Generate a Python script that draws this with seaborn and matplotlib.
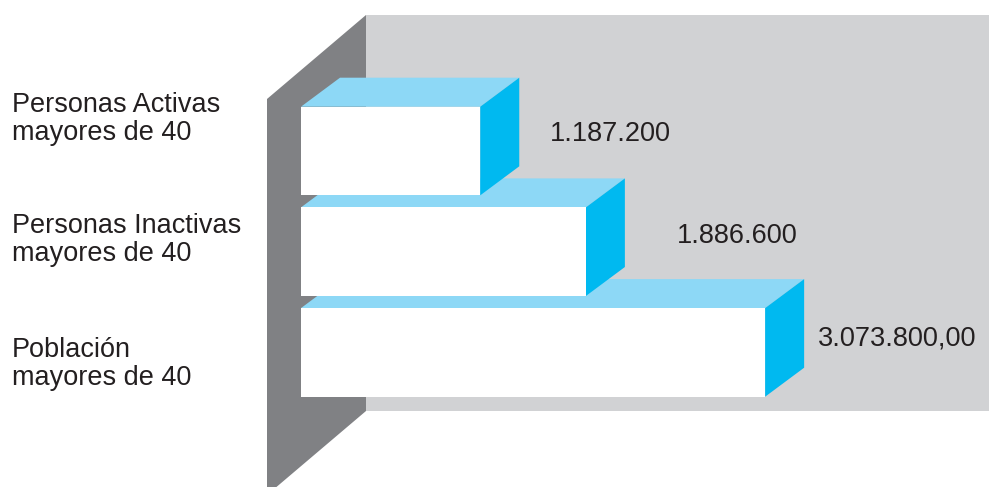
import matplotlib
matplotlib.use("Agg")
import matplotlib.pyplot as plt
from matplotlib.patches import Polygon, Rectangle
import seaborn as sns

# Data
categories = [
    "Personas Activas\nmayores de 40",
    "Personas Inactivas\nmayores de 40",
    "Población\nmayores de 40",
]
values = [1187200, 1886600, 3073800]
value_labels = ["1.187.200", "1.886.600", "3.073.800,00"]

# Layout (pixels)
W, H, DPI = 989, 487, 100
X0_PX = 301            # where the value axis starts
PX_PER_UNIT = 151e-6   # pixels per unit of value
Y0_PX = 151            # centre of the first bar
BAND_PX = 100.7        # distance between bar centres
DEPTH_X, DEPTH_Y = 39, 29   # 3-D extrusion of the bars

# Text placement: category labels (first-line baseline, line pitch) and value label offsets
cat_label_x = 12
cat_label_baseline = [112, 233, 357]
cat_line_pitch = 28
value_offsets = [(70, 10.3), (91, 8.7), (53, 6.5)]

COL_BACK = "#d1d2d4"
COL_SIDE_WALL = "#808184"
COL_TOP = "#8dd8f6"
COL_RIGHT = "#00b9f0"
COL_TEXT = "#231f20"
FONT = ["Liberation Sans", "DejaVu Sans"]
FS = 19.5

sns.set_theme(style="white")
plt.rcParams["font.family"] = FONT

fig = plt.figure(figsize=(W / DPI, H / DPI), dpi=DPI)
fig.patch.set_facecolor("white")
ax = fig.add_axes([0, 0, 1, 1])


def dx(px):
    return (px - X0_PX) / PX_PER_UNIT


def dy(px):
    return (px - Y0_PX) / BAND_PX


# Front faces of the bars
sns.barplot(x=values, y=categories, orient="h", color="white", saturation=1,
            width=0.88, linewidth=0, ax=ax)

ax.set_xlim(dx(0), dx(W))
ax.set_ylim(dy(H), dy(0))
ax.axis("off")

# Back wall and left wall
ax.add_patch(Rectangle((dx(366), dy(15)), dx(W) - dx(366), dy(411) - dy(15),
                       facecolor=COL_BACK, edgecolor="none", zorder=0))
ax.add_patch(Polygon([(dx(267), dy(99)), (dx(366), dy(15)),
                      (dx(366), dy(411)), (dx(267), dy(495))],
                     closed=True, facecolor=COL_SIDE_WALL, edgecolor="none", zorder=1))

# Extruded top and right faces
ddx = DEPTH_X / PX_PER_UNIT
ddy = -DEPTH_Y / BAND_PX
for i, bar in enumerate(ax.patches[:len(values)]):
    x, w = bar.get_x(), bar.get_width()
    yt, yb = bar.get_y(), bar.get_y() + bar.get_height()
    base_z = 10 - 3 * i
    bar.set_zorder(base_z + 1)
    ax.add_patch(Polygon([(x, yt), (x + w, yt), (x + w + ddx, yt + ddy), (x + ddx, yt + ddy)],
                         closed=True, facecolor=COL_TOP, edgecolor="none", zorder=base_z))
    ax.add_patch(Polygon([(x + w, yt), (x + w + ddx, yt + ddy), (x + w + ddx, yb + ddy), (x + w, yb)],
                         closed=True, facecolor=COL_RIGHT, edgecolor="none", zorder=base_z))

# Value labels
for i, (v, lab) in enumerate(zip(values, value_labels)):
    ox, oy = value_offsets[i]
    ax.annotate(lab, xy=(v, i), xytext=(ox, oy), textcoords="offset pixels",
                ha="left", va="baseline", fontsize=FS, color=COL_TEXT, zorder=20)

# Category labels, one text per line
for lab, base in zip(categories, cat_label_baseline):
    for j, line in enumerate(lab.split("\n")):
        ypx = base + j * cat_line_pitch
        fig.text(cat_label_x / W, 1 - ypx / H, line, ha="left", va="baseline",
                 fontsize=FS, color=COL_TEXT)

fig.savefig("out.png", dpi=DPI, facecolor="white")
